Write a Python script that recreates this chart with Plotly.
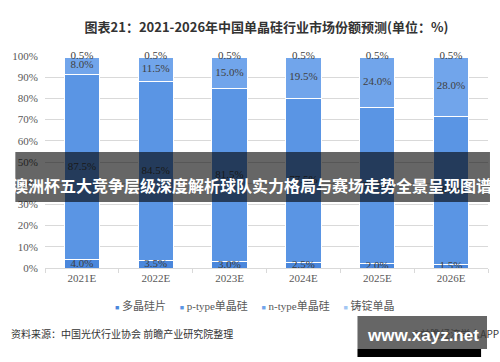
import plotly.graph_objects as go
import numpy as np

# ---------------- data ----------------
categories = ["2021E", "2022E", "2023E", "2024E", "2025E", "2026E"]
series_names = ["多晶硅片", "p-type单晶硅", "n-type单晶硅", "铸锭单晶"]
poly_si = [4.0, 3.5, 3.0, 2.5, 2.0, 1.5]
p_type = [87.5, 84.5, 81.5, 77.5, 73.5, 70.0]
n_type = [8.0, 11.5, 15.0, 19.5, 24.0, 28.0]
cast_mono = [0.5, 0.5, 0.5, 0.5, 0.5, 0.5]
y_ticks = [0, 10, 20, 30, 40, 50, 60, 70, 80, 90, 100]
y_tick_labels = ["0%", "10%", "20%", "30%", "40%", "50%", "60%", "70%", "80%", "90%", "100%"]

title_text = "图表21：2021-2026年中国单晶硅行业市场份额预测(单位：%)"
source_text = "资料来源：中国光伏行业协会 前瞻产业研究院整理"
copyright_text = "©前瞻经济学人APP"
banner_text = "澳洲杯五大竞争层级深度解析球队实力格局与赛场走势全景呈现图谱"
watermark_text = "www.xayz.net"

# ---------------- style ----------------
colors = ["#4a87dc", "#5a95e4", "#71a5eb", "#a2c6f3"]
W, H = 500, 362
L, R, T, B = 40, 12, 56, 94
PW, PH = W - L - R, H - T - B
SERIF = "Liberation Serif, Times New Roman, serif"
CJK = "Noto Sans CJK SC, sans-serif"
MIX = "Liberation Serif, Noto Sans CJK SC, serif"


def xp(px):
    return (px - L) / PW


def yp(py):
    return (H - B - py) / PH


series = [poly_si, p_type, n_type, cast_mono]

fig = go.Figure()
for name, vals, col in zip(series_names, series, colors):
    fig.add_trace(go.Bar(
        x=categories, y=vals, name=name,
        marker=dict(color=col, line=dict(color="white", width=1)),
        showlegend=False, hoverinfo="skip",
    ))

# value labels centred in each segment
cum = np.zeros(len(categories))
for vals in series:
    v = np.array(vals, dtype=float)
    mids = cum + v / 2
    cum = cum + v
    fig.add_trace(go.Scatter(
        x=categories, y=mids, mode="text",
        text=[f"{x:.1f}%" for x in v],
        textfont=dict(family=SERIF, size=11, color="#404040"),
        showlegend=False, cliponaxis=False, hoverinfo="skip",
    ))

fig.update_layout(
    width=W, height=H,
    margin=dict(l=L, r=R, t=T, b=B),
    paper_bgcolor="white", plot_bgcolor="white",
    barmode="stack", bargap=0.52,
    showlegend=False,
    title=dict(text=title_text, x=0.5, xanchor="center", xref="paper",
               y=1 - 27 / H, yanchor="middle", yref="container",
               font=dict(family=CJK, size=13, color="#333333", weight="bold")),
    xaxis=dict(
        type="category", showgrid=False, showline=True,
        linecolor="#d9d9d9", linewidth=1,
        ticks="outside", tickson="boundaries", ticklen=4, tickcolor="#d9d9d9",
        tickfont=dict(family=SERIF, size=11, color="#595959"),
    ),
    yaxis=dict(
        range=[0, 100], tickmode="array", tickvals=y_ticks, ticktext=y_tick_labels,
        showgrid=True, gridcolor="#d9d9d9", gridwidth=1,
        zeroline=False, showline=False, ticklabelstandoff=6,
        tickfont=dict(family=SERIF, size=11, color="#595959"),
    ),
)

# legend built from series names/colours
gap = "\u00a0" * 5
legend_parts = []
for name, col in zip(series_names, colors):
    legend_parts.append(
        f"<span style='color:{col};font-size:7px'>■</span>\u00a0{name}")
legend_text = gap.join(legend_parts)

annotations = [
    dict(text=legend_text, x=xp(252), y=yp(305), xref="paper", yref="paper",
         xanchor="center", yanchor="middle", showarrow=False,
         font=dict(family=MIX, size=11, color="#595959")),
    dict(text=source_text, x=xp(4), y=yp(333), xref="paper", yref="paper",
         xanchor="left", yanchor="middle", showarrow=False,
         font=dict(family=CJK, size=10, color="#333333")),
    dict(text=copyright_text, x=xp(501), y=yp(333), xref="paper", yref="paper",
         xanchor="right", yanchor="middle", showarrow=False,
         font=dict(family=CJK, size=10, color="#3a3a3a")),
    dict(text=banner_text, x=xp(249), y=yp(185), xref="paper", yref="paper",
         xanchor="center", yanchor="middle", showarrow=False,
         font=dict(family=CJK, size=16, color="white", weight="bold")),
    dict(text=watermark_text, x=xp(422), y=yp(335), xref="paper", yref="paper",
         xanchor="center", yanchor="middle", showarrow=False,
         font=dict(family="Liberation Sans, Arial, sans-serif", size=17,
                   color="white", weight="bold")),
]
fig.update_layout(annotations=annotations)

shapes = [
    dict(type="rect", xref="paper", yref="paper", layer="above",
         x0=xp(10), x1=xp(490), y0=yp(202), y1=yp(152),
         fillcolor="rgba(0,0,0,0.6)", line=dict(width=0)),
    dict(type="rect", xref="paper", yref="paper", layer="above",
         x0=xp(356), x1=xp(487), y0=yp(349), y1=yp(316),
         fillcolor="rgba(0,0,0,0.6)", line=dict(width=0)),
    dict(type="rect", xref="paper", yref="paper", layer="above",
         x0=xp(356), x1=xp(481), y0=yp(357), y1=yp(349),
         fillcolor="black", line=dict(width=0)),
]
fig.update_layout(shapes=shapes)

fig.write_html("out.html")
